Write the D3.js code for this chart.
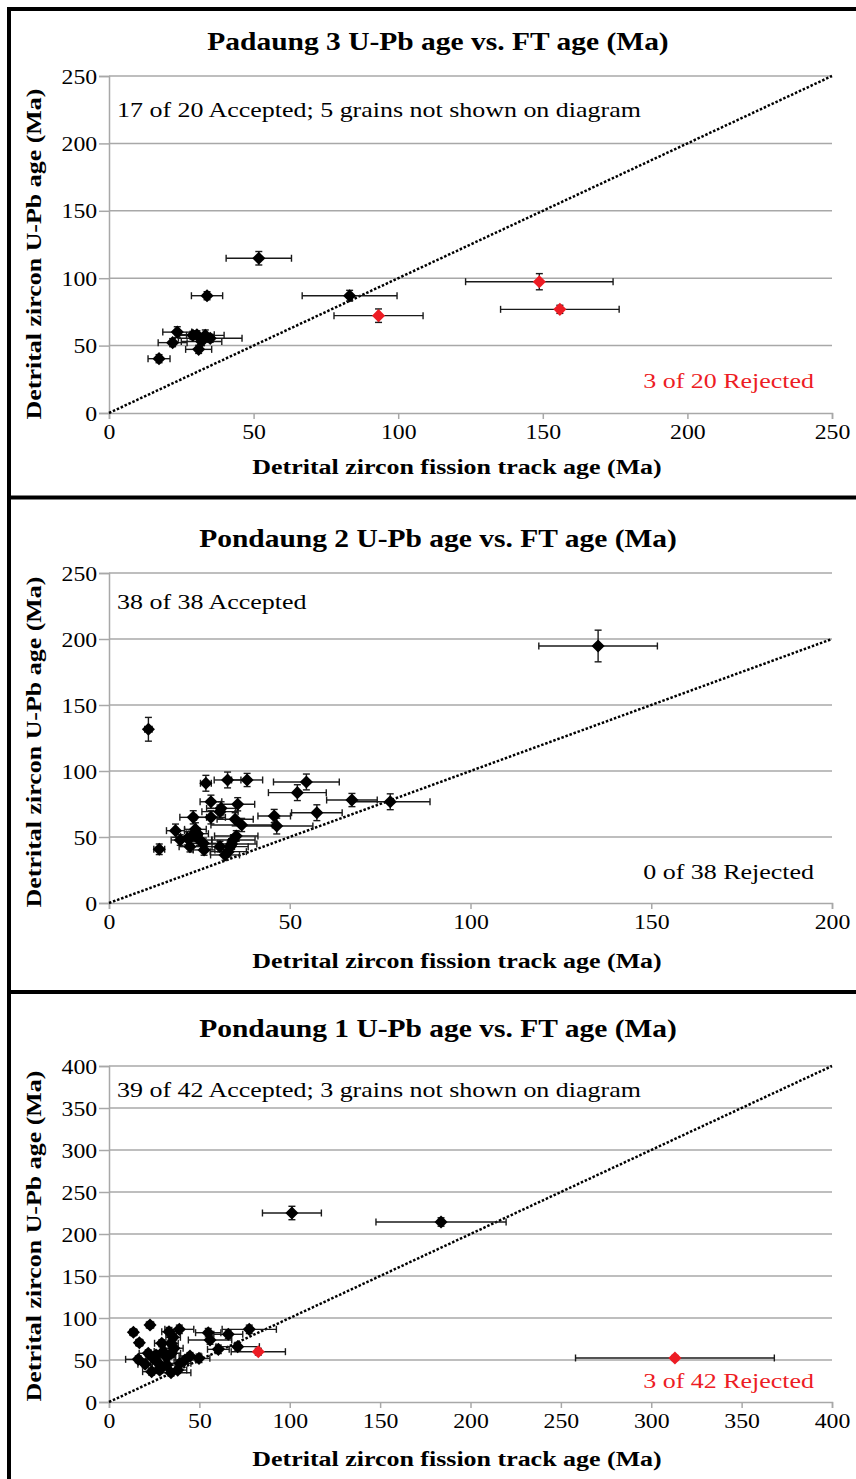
<!DOCTYPE html>
<html>
<head>
<meta charset="utf-8">
<script src="https://cdn.jsdelivr.net/npm/d3@7"></script>
<style>
  html, body { margin: 0; padding: 0; background: #fff; }
  svg text { font-family: "Liberation Serif", "Times New Roman", serif; }
</style>
</head>
<body>
<div id="chart"></div>
<script>
// Padaung 3
var p3Ft      = [51.8, 33.9, 83.2, 17.3, 23.6, 22.0, 29.0, 30.4, 33.3, 35.0, 31.0, 32.0, 148.8, 155.9, 93.2]
var p3FtErr   = [11.3, 5.4, 16.4, 3.8, 5.0, 5.0, 5.0, 6.0, 6.5, 11.0, 4.5, 7.0, 25.5, 20.5, 15.4]
var p3UPb     = [114.8, 87.0, 87.0, 40.3, 60.0, 52.2, 57.6, 58.0, 57.6, 55.4, 47.2, 53.0, 97.4, 76.9, 72.2]
var p3UPbErr  = [5, 3, 4, 3, 4, 3, 3, 3, 4, 3, 3, 3, 6, 3, 5]
var p3Status  = ['A','A','A','A','A','A','A','A','A','A','A','A','R','R','R']

// Pondaung 2
var p2Ft      = [10.9, 13.9, 26.8, 32.8, 38.2, 54.6, 52.1, 67.2, 77.8, 57.5, 45.7, 46.4, 28.2, 35.6, 31.0, 30.7, 23.3, 28.2, 34.9, 36.7,
                 18.4, 23.9, 21.7, 22.4, 26.1, 26.3, 19.7, 25.0, 32.1, 33.5, 34.4, 33.0, 30.7, 33.9, 135.3, 22.8, 24.5, 35.2]
var p2FtErr   = [1.0, 1.5, 1.5, 3.7, 4.3, 9.1, 8.0, 7.0, 11.0, 7.0, 4.5, 10.0, 3.0, 4.7, 4.0, 5.0, 3.7, 4.0, 5.0, 8.5,
                 2.5, 3.0, 3.0, 3.0, 4.0, 3.0, 2.5, 3.5, 4.0, 5.0, 6.0, 5.0, 4.0, 7.0, 16.4, 3.0, 3.0, 6.0]
var p2UPb     = [131.6, 40.7, 90.7, 93.2, 93.2, 91.7, 83.6, 78.0, 76.7, 68.4, 65.9, 58.3, 76.7, 74.8, 71.7, 69.2, 64.9, 64.9, 63.4, 59.1,
                 54.8, 55.8, 49.0, 42.7, 45.2, 40.2, 47.7, 47.7, 36.4, 42.7, 47.7, 38.9, 42.7, 44.7, 194.7, 50.5, 52.5, 50.8]
var p2UPbErr  = [9, 4, 6, 6, 5, 6, 6, 5, 6, 6, 5, 6, 5, 5, 5, 5, 5, 5, 5, 5,
                 5, 5, 5, 4, 4, 4, 4, 4, 4, 4, 4, 4, 4, 4, 12, 4, 4, 4]

// Pondaung 1
var p1Ft      = [101.2, 183.7, 13.5, 22.7, 16.8, 33.2, 38.9, 54.9, 66.0, 77.6, 55.9, 71.2, 60.5, 49.8, 44.8, 34.3, 34.6, 29.2, 16.2,
                 21.7, 24.5, 23.6, 28.2, 34.3, 31.9, 39.3, 35.5, 20.0, 27.0, 32.0, 38.0, 30.0, 42.0, 26.0, 36.0, 28.0, 82.6, 313.1]
var p1FtErr   = [16.3, 36.0, 2.0, 2.0, 2.0, 4.0, 8.0, 7.0, 8.0, 15.0, 12.0, 12.0, 6.0, 6.0, 6.0, 4.0, 5.0, 4.0, 7.0,
                 5.0, 4.0, 5.0, 5.0, 11.0, 5.0, 6.0, 4.0, 4.0, 4.0, 5.0, 5.0, 5.0, 6.0, 4.0, 5.0, 4.0, 15.0, 55.0]
var p1UPb     = [225.0, 214.3, 83.0, 91.7, 70.6, 83.7, 86.5, 82.5, 80.6, 86.5, 73.8, 65.9, 62.7, 52.0, 54.8, 69.9, 58.0, 69.9, 50.8,
                 58.0, 52.0, 36.1, 40.0, 34.9, 53.2, 46.0, 77.0, 45.0, 47.0, 44.0, 38.0, 60.0, 50.0, 56.0, 64.0, 38.0, 59.9, 52.4]
var p1UPbErr  = [8, 5, 4, 4, 4, 5, 5, 5, 5, 5, 5, 5, 5, 5, 4, 4, 4, 4, 4,
                 4, 4, 4, 4, 4, 4, 4, 4, 4, 4, 4, 4, 4, 4, 4, 4, 4, 4, 3]
var p1Status  = p1Ft.map(function(d, i) { return i >= 36 ? 'R' : 'A' })

var panels = [
  {
    title: 'Padaung 3 U-Pb age vs. FT age (Ma)',
    ft: p3Ft, ftErr: p3FtErr, upb: p3UPb, upbErr: p3UPbErr, status: p3Status,
    xMax: 250, yMax: 250, xTicks: [0, 50, 100, 150, 200, 250], yTicks: [0, 50, 100, 150, 200, 250],
    accepted: '17 of 20 Accepted; 5 grains not shown on diagram',
    rejected: '3 of 20 Rejected', rejectedColor: '#ed1c24',
    layout: {top: 76, bottom: 413, titleY: 50, acceptY: 117, rejectY: 388, xTitleY: 474, yTitleY: 254}
  },
  {
    title: 'Pondaung 2 U-Pb age vs. FT age (Ma)',
    ft: p2Ft, ftErr: p2FtErr, upb: p2UPb, upbErr: p2UPbErr, status: p2Ft.map(function() { return 'A' }),
    xMax: 200, yMax: 250, xTicks: [0, 50, 100, 150, 200], yTicks: [0, 50, 100, 150, 200, 250],
    accepted: '38 of 38 Accepted',
    rejected: '0 of 38 Rejected', rejectedColor: '#000',
    layout: {top: 573, bottom: 903, titleY: 547, acceptY: 609, rejectY: 879, xTitleY: 968, yTitleY: 742}
  },
  {
    title: 'Pondaung 1 U-Pb age vs. FT age (Ma)',
    ft: p1Ft, ftErr: p1FtErr, upb: p1UPb, upbErr: p1UPbErr, status: p1Status,
    xMax: 400, yMax: 400, xTicks: [0, 50, 100, 150, 200, 250, 300, 350, 400], yTicks: [0, 50, 100, 150, 200, 250, 300, 350, 400],
    accepted: '39 of 42 Accepted; 3 grains not shown on diagram',
    rejected: '3 of 42 Rejected', rejectedColor: '#ed1c24',
    layout: {top: 1066, bottom: 1402, titleY: 1037, acceptY: 1097, rejectY: 1388, xTitleY: 1466, yTitleY: 1236}
  }
]

var W = 856, H = 1479
var plotLeft = 109, plotRight = 832
var gridColor = '#a8a8a8'
var red = '#ed1c24'
var stretch = 1.18      // the source figure is a bit wider than Times metrics
var tickStretch = 1.08

var svg = d3.select('#chart').append('svg')
  .attr('width', W)
  .attr('height', H)

svg.append('rect').attr('width', W).attr('height', H).attr('fill', '#fff')

panels.forEach(function(p) { drawPanel(p) })

// panel frame lines
var frame = svg.append('g').attr('stroke', '#000').attr('stroke-width', 4)
frame.append('line').attr('x1', 9).attr('x2', 9).attr('y1', 7).attr('y2', H)
frame.append('line').attr('x1', 7).attr('x2', W).attr('y1', 9).attr('y2', 9)
frame.append('line').attr('x1', 7).attr('x2', W).attr('y1', 497.5).attr('y2', 497.5)
frame.append('line').attr('x1', 7).attr('x2', W).attr('y1', 992).attr('y2', 992)

function drawPanel(p) {
  var L = p.layout
  var x = d3.scaleLinear().domain([0, p.xMax]).range([plotLeft, plotRight])
  var y = d3.scaleLinear().domain([0, p.yMax]).range([L.bottom, L.top])

  var g = svg.append('g')

  // horizontal grid lines
  g.append('g').selectAll('line')
    .data(p.yTicks.filter(function(d) { return d > 0 }))
    .enter().append('line')
    .attr('x1', plotLeft).attr('x2', plotRight)
    .attr('y1', function(d) { return y(d) }).attr('y2', function(d) { return y(d) })
    .style('stroke', gridColor)
    .style('stroke-width', 1.5)

  // y axis
  var yAxis = g.append('g')
    .attr('transform', 'translate(' + plotLeft + ',0)')
    .call(d3.axisLeft(y).tickValues(p.yTicks).tickSize(10).tickPadding(1).tickFormat(d3.format('d')))
  yAxis.select('.domain').style('stroke', gridColor).style('stroke-width', 1.5)
  yAxis.selectAll('.tick line').style('stroke', gridColor).style('stroke-width', 1.5)
  yAxis.selectAll('.tick text')
    .style('font-family', '"Liberation Serif", "Times New Roman", serif')
    .style('font-size', '22px').style('fill', '#000')
    .attr('transform', 'scale(' + tickStretch + ',1)')

  // x axis
  var xAxis = g.append('g')
    .attr('transform', 'translate(0,' + L.bottom + ')')
    .call(d3.axisBottom(x).tickValues(p.xTicks).tickSize(6).tickSizeOuter(6).tickPadding(4).tickFormat(d3.format('d')))
  xAxis.select('.domain').style('stroke', gridColor).style('stroke-width', 1.5)
  xAxis.selectAll('.tick line').style('stroke', gridColor).style('stroke-width', 1.5)
  xAxis.selectAll('.tick text')
    .style('font-family', '"Liberation Serif", "Times New Roman", serif')
    .style('font-size', '22px').style('fill', '#000')
    .attr('transform', 'scale(' + tickStretch + ',1)')

  // 1:1 line
  var lim = Math.min(p.xMax, p.yMax)
  g.append('line')
    .attr('x1', x(0)).attr('y1', y(0))
    .attr('x2', x(lim)).attr('y2', y(lim))
    .style('stroke', '#000')
    .style('stroke-width', 2.5)
    .style('stroke-dasharray', '2.5,1.8')

  var pts = p.ft.map(function(d, i) {
    return {ft: d, ftErr: p.ftErr[i], upb: p.upb[i], upbErr: p.upbErr[i], status: p.status[i]}
  })

  var bars = g.append('g')
    .style('stroke', '#1a1a1a')
    .style('stroke-width', 1.4)
  var cap = 3.5

  pts.forEach(function(d) {
    var cx = x(d.ft), cy = y(d.upb)
    var x0 = x(d.ft - d.ftErr), x1 = x(d.ft + d.ftErr)
    var y0 = y(d.upb - d.upbErr), y1 = y(d.upb + d.upbErr)
    bars.append('line').attr('x1', x0).attr('x2', x1).attr('y1', cy).attr('y2', cy)
    bars.append('line').attr('x1', x0).attr('x2', x0).attr('y1', cy - cap).attr('y2', cy + cap)
    bars.append('line').attr('x1', x1).attr('x2', x1).attr('y1', cy - cap).attr('y2', cy + cap)
    bars.append('line').attr('x1', cx).attr('x2', cx).attr('y1', y0).attr('y2', y1)
    bars.append('line').attr('x1', cx - cap).attr('x2', cx + cap).attr('y1', y0).attr('y2', y0)
    bars.append('line').attr('x1', cx - cap).attr('x2', cx + cap).attr('y1', y1).attr('y2', y1)
  })

  var diamond = d3.symbol().type(d3.symbolSquare).size(86)
  g.append('g').selectAll('path')
    .data(pts)
    .enter().append('path')
    .attr('d', diamond)
    .attr('transform', function(d) { return 'translate(' + x(d.ft) + ',' + y(d.upb) + ') rotate(45)' })
    .style('fill', function(d) { return d.status === 'R' ? red : '#000' })

  // texts
  g.append('text')
    .attr('transform', 'translate(438,' + L.titleY + ') scale(' + stretch + ',1)')
    .attr('text-anchor', 'middle')
    .style('font-size', '25px').style('font-weight', 'bold')
    .text(p.title)

  g.append('text')
    .attr('transform', 'translate(457,' + L.xTitleY + ') scale(' + stretch + ',1)')
    .attr('text-anchor', 'middle')
    .style('font-size', '22px').style('font-weight', 'bold')
    .text('Detrital zircon fission track age (Ma)')

  g.append('text')
    .attr('transform', 'translate(41,' + L.yTitleY + ') rotate(-90) scale(' + stretch + ',1)')
    .attr('text-anchor', 'middle')
    .style('font-size', '22px').style('font-weight', 'bold')
    .text('Detrital zircon U-Pb age (Ma)')

  g.append('text')
    .attr('transform', 'translate(117,' + L.acceptY + ') scale(' + stretch + ',1)')
    .style('font-size', '22px')
    .text(p.accepted)

  g.append('text')
    .attr('transform', 'translate(814,' + L.rejectY + ') scale(' + stretch + ',1)')
    .attr('text-anchor', 'end')
    .style('font-size', '22px')
    .style('fill', p.rejectedColor)
    .text(p.rejected)
}
</script>
</body>
</html>
